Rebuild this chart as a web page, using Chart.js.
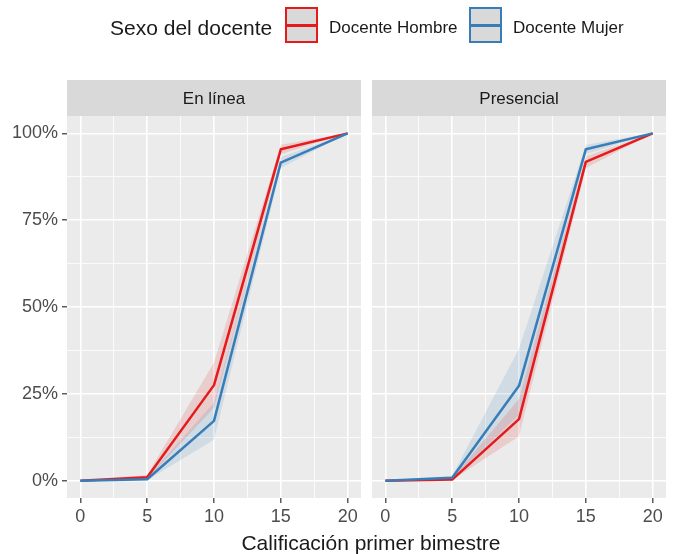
<!DOCTYPE html>
<html>
<head>
<meta charset="utf-8">
<script src="https://cdn.jsdelivr.net/npm/chart.js@4.4.0/dist/chart.umd.min.js"></script>
<style>
  html, body { margin: 0; padding: 0; background: #fff; width: 673px; height: 554px; overflow: hidden; }
  body { font-family: "Liberation Sans", Arial, sans-serif; }
  #wrap { position: relative; width: 673px; height: 554px; }
  canvas { position: absolute; top: 0; }
  .txt { position: absolute; white-space: nowrap; color: #1a1a1a; line-height: 1; }
  .key { position: absolute; top: 7px; width: 29px; height: 32px; background: #D9D9D9; border: 2px solid; }
  .key span { position: absolute; left: 0; right: 0; top: 14.5px; height: 3px; }
</style>
</head>
<body>
<div id="wrap">
  <canvas id="cLeft" width="366" height="554" style="left:0"></canvas>
  <canvas id="cRight" width="307" height="554" style="left:366px"></canvas>

  <div class="txt" style="left:110px; top:17px; font-size:21px;">Sexo del docente</div>
  <div class="key" style="left:285px; border-color:#E41A1C;"><span style="background:#E41A1C"></span></div>
  <div class="txt" style="left:329px; top:19px; font-size:17px;">Docente Hombre</div>
  <div class="key" style="left:469px; border-color:#377EB8;"><span style="background:#377EB8"></span></div>
  <div class="txt" style="left:513px; top:19px; font-size:17px;">Docente Mujer</div>

  <div class="txt" style="left:0; width:742px; text-align:center; top:532px; font-size:21px;">Calificación primer bimestre</div>
</div>

<script>
// Grades on the x axis
const grades = [0, 5, 10, 15, 20];

// Panel labels
const panels = ['En línea', 'Presencial'];

// Cumulative share of students, "En línea"
const onlineHombre     = [0, 0.010, 0.275, 0.954, 1];
const onlineHombreLow  = [0, 0.005, 0.210, 0.940, 1];
const onlineHombreHigh = [0, 0.016, 0.340, 0.967, 1];
const onlineMujer      = [0, 0.004, 0.172, 0.916, 1];
const onlineMujerLow   = [0, 0.001, 0.118, 0.900, 1];
const onlineMujerHigh  = [0, 0.009, 0.225, 0.932, 1];

// Cumulative share of students, "Presencial"
const presHombre     = [0, 0.003, 0.177, 0.918, 1];
const presHombreLow  = [0, 0.001, 0.128, 0.900, 1];
const presHombreHigh = [0, 0.007, 0.235, 0.934, 1];
const presMujer      = [0, 0.008, 0.273, 0.954, 1];
const presMujerLow   = [0, 0.003, 0.190, 0.940, 1];
const presMujerHigh  = [0, 0.014, 0.380, 0.967, 1];

// Axis ticks
const xMajor = [0, 5, 10, 15, 20];
const xTicks = [0, 2.5, 5, 7.5, 10, 12.5, 15, 17.5, 20];
const yMajor = [0, 0.25, 0.5, 0.75, 1];
const yTicks = [0, 0.125, 0.25, 0.375, 0.5, 0.625, 0.75, 0.875, 1];

const RED = '#E41A1C';
const BLUE = '#377EB8';
const RED_BAND = 'rgba(228,26,28,0.14)';
const BLUE_BAND = 'rgba(55,126,184,0.14)';
const FONT = '"Liberation Sans", Arial, sans-serif';

const pts = ys => grades.map((x, i) => ({ x: x, y: ys[i] }));
const isMajor = (list, v) => list.some(m => Math.abs(m - v) < 1e-9);

// Grey panel background and the facet strip above it
const panelPlugin = {
  id: 'panel',
  beforeDraw(chart, args, opts) {
    const { ctx, chartArea: a } = chart;
    ctx.save();
    ctx.fillStyle = '#EBEBEB';
    ctx.fillRect(a.left, a.top, a.right - a.left, a.bottom - a.top);
    ctx.fillStyle = '#D9D9D9';
    ctx.fillRect(a.left, a.top - 36, a.right - a.left, 36);
    ctx.fillStyle = '#1A1A1A';
    ctx.font = '17px ' + FONT;
    ctx.textAlign = 'center';
    ctx.textBaseline = 'middle';
    ctx.fillText(opts.text, (a.left + a.right) / 2, a.top - 17);
    ctx.restore();
  }
};

function band(low, high, color) {
  return [
    { data: pts(low), borderWidth: 0, borderColor: 'transparent', pointRadius: 0, fill: false, order: 5 },
    { data: pts(high), borderWidth: 0, borderColor: 'transparent', pointRadius: 0, fill: '-1', backgroundColor: color, order: 5 }
  ];
}

function line(ys, color, order) {
  return { data: pts(ys), borderColor: color, borderWidth: 2.5, pointRadius: 0, fill: false,
           tension: 0, borderJoinStyle: 'round', borderCapStyle: 'butt', order: order };
}

function makeChart(id, title, s, showY, padding) {
  const datasets = [
    ...band(s.hLow, s.hHigh, RED_BAND),
    ...band(s.mLow, s.mHigh, BLUE_BAND),
    line(s.h, RED, 2),
    line(s.m, BLUE, 1)
  ];
  return new Chart(document.getElementById(id), {
    type: 'line',
    data: { datasets: datasets },
    options: {
      responsive: false,
      animation: false,
      devicePixelRatio: 1,
      layout: { padding: padding },
      plugins: { legend: { display: false }, tooltip: { enabled: false }, panel: { text: title } },
      scales: {
        x: {
          type: 'linear', min: -1, max: 21,
          afterBuildTicks: sc => { sc.ticks = xTicks.map(v => ({ value: v })); },
          afterFit: sc => { sc.height = 35; },
          border: { display: false },
          grid: {
            color: '#FFFFFF',
            lineWidth: c => isMajor(xMajor, c.tick.value) ? 1.6 : 0.8,
            tickColor: c => isMajor(xMajor, c.tick.value) ? '#333333' : 'rgba(0,0,0,0)',
            tickLength: 5, tickWidth: 1.2
          },
          ticks: {
            autoSkip: false, maxRotation: 0, padding: 3,
            color: '#4D4D4D', font: { family: FONT, size: 18 },
            callback: v => isMajor(xMajor, v) ? String(v) : ''
          }
        },
        y: {
          type: 'linear', min: -0.05, max: 1.05,
          afterBuildTicks: sc => { sc.ticks = yTicks.map(v => ({ value: v })); },
          afterFit: sc => { sc.width = showY ? 67 : 0; },
          border: { display: false },
          grid: {
            color: '#FFFFFF',
            lineWidth: c => isMajor(yMajor, c.tick.value) ? 1.6 : 0.8,
            tickColor: c => (showY && isMajor(yMajor, c.tick.value)) ? '#333333' : 'rgba(0,0,0,0)',
            tickLength: showY ? 5 : 0, tickWidth: 1.2
          },
          ticks: {
            display: showY, autoSkip: false, padding: 4,
            color: '#4D4D4D', font: { family: FONT, size: 18 },
            callback: v => isMajor(yMajor, v) ? Math.round(v * 100) + '%' : ''
          }
        }
      }
    },
    plugins: [panelPlugin]
  });
}

makeChart('cLeft', panels[0], {
  h: onlineHombre, hLow: onlineHombreLow, hHigh: onlineHombreHigh,
  m: onlineMujer, mLow: onlineMujerLow, mHigh: onlineMujerHigh
}, true, { top: 116, left: 0, right: 5, bottom: 21 });

makeChart('cRight', panels[1], {
  h: presHombre, hLow: presHombreLow, hHigh: presHombreHigh,
  m: presMujer, mLow: presMujerLow, mHigh: presMujerHigh
}, false, { top: 116, left: 6, right: 7, bottom: 21 });
</script>
</body>
</html>
